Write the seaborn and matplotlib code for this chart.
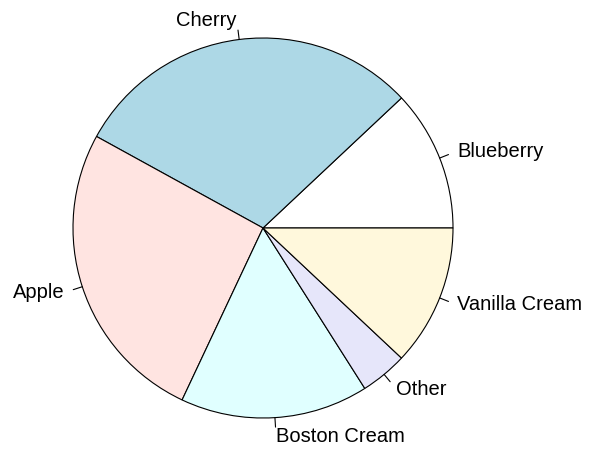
import numpy as np
import matplotlib
matplotlib.use("Agg")
import matplotlib.pyplot as plt
from matplotlib.patches import Wedge
import seaborn as sns

# pie data (R pie example)
labels = ["Blueberry", "Cherry", "Apple", "Boston Cream", "Other", "Vanilla Cream"]
sales = [0.12, 0.30, 0.26, 0.16, 0.04, 0.12]
colors = ["white", "lightblue", "mistyrose", "lightcyan", "lavender", "cornsilk"]

sns.set_theme(style="white")
plt.rcParams['font.family'] = ['Liberation Sans', 'DejaVu Sans']

W, H = 589, 450
cx, cy, r = 263, 228, 190

fig = plt.figure(figsize=(W / 100, H / 100), dpi=100)
ax = fig.add_axes([0, 0, 1, 1])
ax.set_xlim(-cx / r, (W - cx) / r)
ax.set_ylim(-(H - cy) / r, cy / r)
ax.axis("off")

fracs = np.array(sales) / np.sum(sales)
bounds = np.concatenate([[0], np.cumsum(fracs)])
for i, lab in enumerate(labels):
    t1, t2 = bounds[i] * 360, bounds[i + 1] * 360
    ax.add_patch(Wedge((0, 0), 1, t1, t2, facecolor=colors[i],
                       edgecolor="black", linewidth=0.8))
    mid = np.deg2rad((t1 + t2) / 2)
    x, y = np.cos(mid), np.sin(mid)
    ax.plot([x, 1.05 * x], [y, 1.05 * y], color="black", linewidth=0.8)
    ax.text(1.1 * x, 1.1 * y, lab, ha="left" if x >= 0 else "right",
            va="center", fontsize=14.5, color="black")

fig.savefig("out.png", dpi=100)
